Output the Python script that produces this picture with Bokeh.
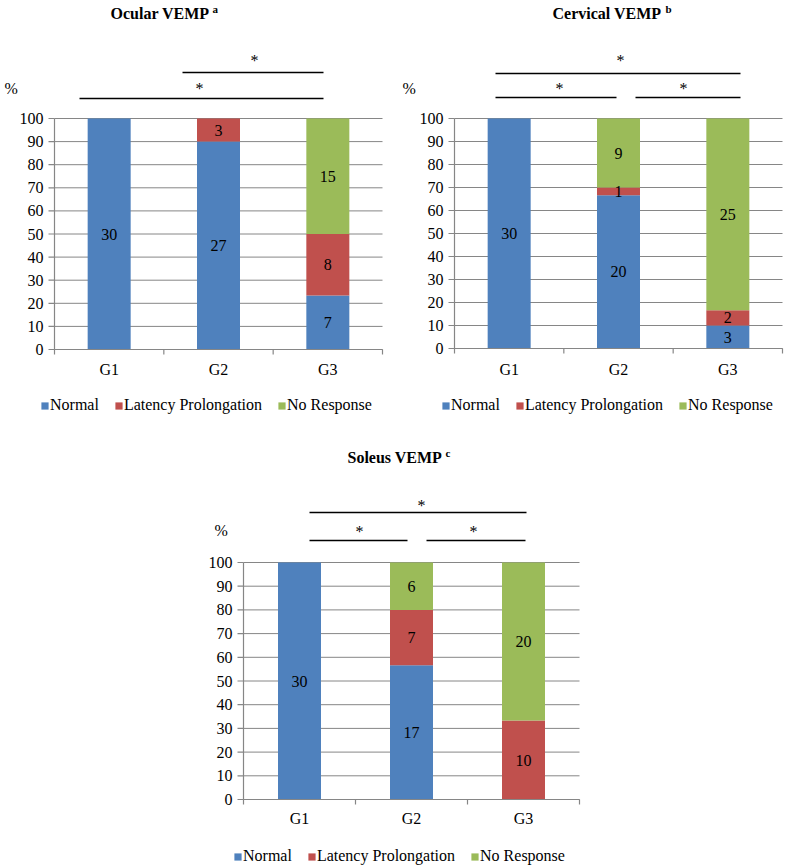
from bokeh.plotting import figure
from bokeh.models import ColumnDataSource, Legend, LegendItem, Spacer
from bokeh.layouts import column, row
from bokeh.embed import file_html
from bokeh.resources import INLINE
from bokeh.core.properties import value
import numpy as np

# ---------------- data ----------------
groups = ["G1", "G2", "G3"]
series_names = ["Normal", "Latency Prolongation", "No Response"]
y_ticks = [0, 10, 20, 30, 40, 50, 60, 70, 80, 90, 100]

ocular_normal = [30, 27, 7]
ocular_latency = [0, 3, 8]
ocular_noresp = [0, 0, 15]

cervical_normal = [30, 20, 3]
cervical_latency = [0, 1, 2]
cervical_noresp = [0, 9, 25]

soleus_normal = [30, 17, 0]
soleus_latency = [0, 7, 10]
soleus_noresp = [0, 6, 20]

colors = ["#4F81BD", "#C0504D", "#9BBB59"]
GRAY = "#868686"
FONT = "Liberation Serif"


def make_chart(title, sup, counts, width, height, left, right_edge, zero_y, px100,
               title_pos, sup_pos, pct_pos, sig_lines, stars, bar_px, label_y,
               legend_loc):
    catw = (right_edge - left) / 3.0

    def X(fx):
        return 0.5 + (fx - left) / catw

    def Y(fy):
        return (zero_y - fy) / px100 * 100.0

    def DX(px):
        return px / catw

    p = figure(width=width, height=height, x_range=(X(0), X(width)),
               y_range=(Y(height), Y(0)), output_backend="svg",
               toolbar_location=None, title=None,
               min_border_left=0, min_border_right=0,
               min_border_top=0, min_border_bottom=0)
    p.outline_line_color = None
    p.background_fill_color = "white"
    p.border_fill_color = "white"
    p.axis.visible = False
    p.grid.visible = False

    # gridlines (0..100)
    p.segment(x0=[0.5] * len(y_ticks), y0=y_ticks, x1=[3.5] * len(y_ticks), y1=y_ticks,
              line_color=GRAY, line_width=1)

    # stacked percentages
    counts = [np.array(c, dtype=float) for c in counts]
    total = counts[0] + counts[1] + counts[2]
    pcts = [c / total * 100.0 for c in counts]
    xs = np.arange(1, len(groups) + 1)
    src = ColumnDataSource(dict(x=xs, s0=pcts[0], s1=pcts[1], s2=pcts[2]))
    rends = p.vbar_stack(["s0", "s1", "s2"], x="x", width=DX(bar_px), color=colors,
                         line_color=None, source=src)

    # segment labels
    lx, ly, lt = [], [], []
    bottom_acc = np.zeros(len(groups))
    for c, pc in zip(counts, pcts):
        for i in range(len(groups)):
            if c[i] > 0:
                lx.append(xs[i])
                ly.append(bottom_acc[i] + pc[i] / 2.0)
                lt.append(str(int(c[i])))
        bottom_acc = bottom_acc + pc
    p.text(x=lx, y=ly, text=lt, text_font=value(FONT), text_font_size="16px",
           text_align="center", text_baseline="middle", text_color="black")

    # value axis: line, ticks, labels
    p.segment(x0=[0.5], y0=[0], x1=[0.5], y1=[100], line_color=GRAY, line_width=1.2)
    p.segment(x0=[X(left - 6)] * len(y_ticks), y0=y_ticks, x1=[0.5] * len(y_ticks),
              y1=y_ticks, line_color=GRAY, line_width=1.2)
    p.text(x=[X(left - 11)] * len(y_ticks), y=y_ticks, text=[str(t) for t in y_ticks],
           text_font=value(FONT), text_font_size="16px", text_align="right",
           text_baseline="middle", text_color="black")

    # category axis: line at 0, boundary ticks, labels
    bounds = [0.5, 1.5, 2.5, 3.5]
    p.segment(x0=[0.5], y0=[0], x1=[3.5], y1=[0], line_color=GRAY, line_width=1.2)
    p.segment(x0=bounds, y0=[0] * 4, x1=bounds, y1=[Y(zero_y + 5)] * 4,
              line_color=GRAY, line_width=1.2)
    p.text(x=list(xs), y=[Y(label_y)] * 3, text=groups, text_font=value(FONT),
           text_font_size="16px", text_align="center", text_baseline="middle",
           text_color="black")

    # significance bars
    for (fx0, fx1, fy) in sig_lines:
        p.segment(x0=[X(fx0)], y0=[Y(fy)], x1=[X(fx1)], y1=[Y(fy)],
                  line_color="black", line_width=1.5)
    p.text(x=[X(s[0]) for s in stars], y=[Y(s[1] + 3) for s in stars],
           text=["*"] * len(stars), text_font=value(FONT), text_font_size="16px",
           text_align="center", text_baseline="middle", text_color="black")

    # title with superscript
    p.text(x=[X(title_pos[0])], y=[Y(title_pos[1])], text=[title],
           text_font=value(FONT), text_font_size="16px", text_font_style="bold",
           text_align="left", text_baseline="middle", text_color="black")
    p.text(x=[X(sup_pos[0])], y=[Y(sup_pos[1])], text=[sup],
           text_font=value(FONT), text_font_size="11px", text_font_style="bold",
           text_align="left", text_baseline="middle", text_color="black")

    # "%" unit label
    p.text(x=[X(pct_pos[0])], y=[Y(pct_pos[1])], text=["%"], text_font=value(FONT),
           text_font_size="16px", text_align="left", text_baseline="middle",
           text_color="black")

    legend = Legend(items=[LegendItem(label=n, renderers=[r]) for n, r in zip(series_names, rends)],
                    orientation="horizontal", location=legend_loc,
                    glyph_width=9, glyph_height=9, label_standoff=1, spacing=15,
                    padding=0, margin=0, border_line_color=None,
                    background_fill_alpha=0, label_text_font=FONT,
                    label_text_font_size="16px", label_text_color="black",
                    label_height=16)
    p.add_layout(legend)
    return p


p1 = make_chart("Ocular VEMP", "a", [ocular_normal, ocular_latency, ocular_noresp],
                width=392, height=420, left=54, right_edge=382, zero_y=349, px100=231,
                title_pos=(110, 13), sup_pos=(212, 8), pct_pos=(4, 88),
                sig_lines=[(182, 323, 72), (79, 323, 98)],
                stars=[(254, 57), (199, 85)], bar_px=43, label_y=369,
                legend_loc=(40, 6))

p2 = make_chart("Cervical VEMP", "b", [cervical_normal, cervical_latency, cervical_noresp],
                width=392, height=420, left=62, right_edge=390, zero_y=348, px100=230,
                title_pos=(160, 13), sup_pos=(273, 8), pct_pos=(10, 88),
                sig_lines=[(103, 348, 73), (103, 224, 97), (243, 348, 97)],
                stars=[(228, 57), (167, 85), (291, 85)], bar_px=43, label_y=369,
                legend_loc=(49, 6))

p3 = make_chart("Soleus VEMP", "c", [soleus_normal, soleus_latency, soleus_noresp],
                width=420, height=446, left=63, right_edge=399, zero_y=379, px100=237,
                title_pos=(167, 37), sup_pos=(265, 32), pct_pos=(34, 110),
                sig_lines=[(129, 346, 92), (129, 227, 120), (246, 345, 120)],
                stars=[(241, 82), (179, 108), (293, 108)], bar_px=43, label_y=398,
                legend_loc=(53, 1))

layout = column(row(p1, p2), row(Spacer(width=180, height=446), p3))

open("out.html", "w").write(file_html(layout, INLINE))
